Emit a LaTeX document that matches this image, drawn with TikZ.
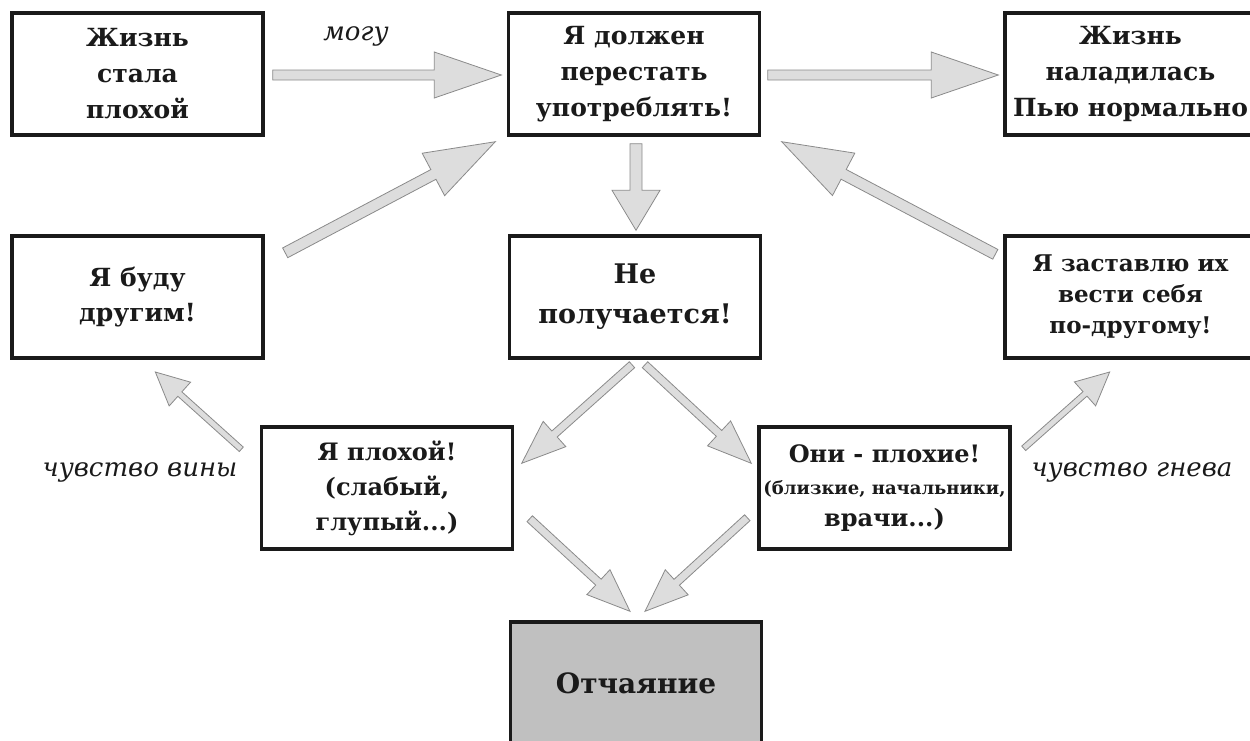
\documentclass[tikz,border=0pt]{standalone}
\usepackage{fontspec}
\setmainfont{DejaVu Serif}
\usetikzlibrary{calc}
\definecolor{arrfill}{HTML}{DDDDDD}
\definecolor{arrline}{HTML}{8A8A8A}
\definecolor{ink}{HTML}{1A1A1A}
\definecolor{despfill}{HTML}{C0C0C0}
\tikzset{
  box/.style={draw=ink, line width=3.4pt, minimum width=251pt, minimum height=122pt,
    align=center, inner sep=0pt, text=ink, font=\fontsize{25}{36}\selectfont\bfseries},
  barrow/.style={fill=arrfill, draw=arrline, line width=0.8pt, line join=miter},
  lbl/.style={font=\fontsize{26}{30}\selectfont\itshape, text=ink, inner sep=0pt},
}
\newcommand\blockarrow[5]{%
  \path let \p1=($(#2)-(#1)$) in
    \pgfextra{\pgfmathsetmacro\baAngT{atan2(\y1,\x1)}\pgfmathsetmacro\baLenT{veclen(\x1,\y1)}%
      \xdef\baAng{\baAngT}\xdef\baLen{\baLenT}};
  \begin{scope}[shift={(#1)}, rotate=\baAng]
    \pgfmathsetmacro\baBase{\baLen-#5}
    \draw[barrow] (0pt,-#3pt) -- (\baBase pt,-#3pt) -- (\baBase pt,-#4pt) -- (\baLen pt,0pt)
      -- (\baBase pt,#4pt) -- (\baBase pt,#3pt) -- (0pt,#3pt) -- cycle;
  \end{scope}}
\begin{document}
\begin{tikzpicture}[x=1pt,y=-1pt]
\useasboundingbox (0,0) rectangle (1250,740);
% nodes
\node[box] (life) at (137.5,74) {Жизнь\\стала\\плохой};
\node[box] (stop) at (634,74) {Я должен\\перестать\\употреблять!};
\node[box] (good) at (1130.5,74) {Жизнь\\наладилась\\Пью нормально};
\node[box, font=\fontsize{25}{35}\selectfont\bfseries] (other) at (137.5,297) {Я буду\\другим!};
\node[box, font=\fontsize{27}{40}\selectfont\bfseries] (fail) at (635,297) {Не\\получается!};
\node[box, font=\fontsize{23}{31}\selectfont\bfseries] (force) at (1130.5,297) {Я заставлю их\\вести себя\\по-другому!};
\node[box, font=\fontsize{24}{35}\selectfont\bfseries] (bad) at (387,488) {Я плохой!\\(слабый,\\глупый...)};
\node[box, font=\fontsize{24}{32}\selectfont\bfseries] (they) at (884.5,488) {Они - плохие!\\{\fontsize{18}{32}\selectfont(близкие, начальники,}\\врачи...)};
\node[box, fill=despfill, font=\fontsize{28}{36}\selectfont\bfseries] (desp) at (636,683) {Отчаяние};
% labels
\node[lbl] (mogu) at (356,36) {могу};
\node[lbl] (vina) at (140,472) {чувство вины};
\node[lbl] (gneva) at (1132,472) {чувство гнева};
% arrow end points
\coordinate (a1s) at ($(life.east)+(8,1)$);
\coordinate (a1e) at ($(stop.west)+(-5.5,1)$);
\coordinate (a2s) at ($(stop.east)+(6.5,1)$);
\coordinate (a2e) at ($(good.west)+(-5,1)$);
\coordinate (a3s) at ($(stop.south)+(2,7)$);
\coordinate (a3e) at ($(fail.north)+(1,-4)$);
\coordinate (a4s) at ($(other.north east)+(20.5,18.5)$);
\coordinate (a4e) at ($(stop.south west)+(-11.5,5)$);
\coordinate (a5s) at ($(force.north west)+(-8,20)$);
\coordinate (a5e) at ($(stop.south east)+(20.5,5)$);
\coordinate (a6s) at ($(fail.south)+(-3,5)$);
\coordinate (a6e) at ($(bad.north east)+(7.5,38)$);
\coordinate (a7s) at ($(fail.south)+(10,5)$);
\coordinate (a7e) at ($(they.north west)+(-6,38)$);
\coordinate (a8s) at ($(bad.south east)+(15.5,-32)$);
\coordinate (a8e) at ($(desp.north)+(-6,-9)$);
\coordinate (a9s) at ($(they.south west)+(-10,-33)$);
\coordinate (a9e) at ($(desp.north)+(9,-9)$);
\coordinate (a10s) at ($(bad.north west)+(-18.5,24)$);
\coordinate (a10e) at ($(other.south)+(17.5,12)$);
\coordinate (a11s) at ($(they.north east)+(12,23)$);
\coordinate (a11e) at ($(force.south)+(-20.5,12)$);
% arrows
\blockarrow{a1s}{a1e}{5}{23}{67}
\blockarrow{a2s}{a2e}{5}{23}{67}
\blockarrow{a3s}{a3e}{6}{24}{40}
\blockarrow{a4s}{a4e}{5.5}{24}{70}
\blockarrow{a5s}{a5e}{5.5}{24}{70}
\blockarrow{a6s}{a6e}{4}{17}{44}
\blockarrow{a7s}{a7e}{4}{17}{44}
\blockarrow{a8s}{a8e}{4}{17}{43}
\blockarrow{a9s}{a9e}{4}{17}{43}
\blockarrow{a10s}{a10e}{3}{16}{33}
\blockarrow{a11s}{a11e}{3}{16}{33}
\end{tikzpicture}
\end{document}
